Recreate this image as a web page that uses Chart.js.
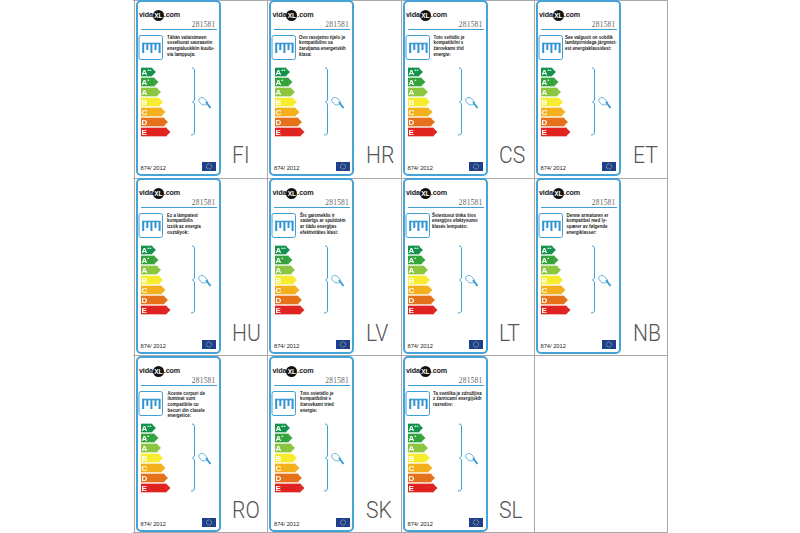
<!DOCTYPE html>
<html><head><meta charset="utf-8">
<script src="https://cdn.jsdelivr.net/npm/chart.js@4/dist/chart.umd.min.js"></script>
<style>
html,body{margin:0;padding:0;background:#fff;width:800px;height:533px;overflow:hidden}
body{position:relative;font-family:"Liberation Sans",Arial,sans-serif}
.vline{position:absolute;top:0;height:533px;width:1px;background:#a9a9a9}
.hline{position:absolute;left:133px;width:535px;height:1px;background:#a9a9a9}
.card{position:absolute;box-sizing:border-box;width:85px;height:176px;border:2px solid #46a3d8;border-radius:5px;background:#fff}
.logo{position:absolute;left:1.500px;top:7px;font:bold 7.200px "Liberation Sans";color:#222;white-space:nowrap;line-height:12px;letter-spacing:-.15px}
.logo b{display:inline-block;width:11px;height:11px;border-radius:50%;background:#111;color:#fff;font:bold 6.500px/11px "Liberation Sans";text-align:center;vertical-align:middle;letter-spacing:0}
.code{position:absolute;right:3px;top:18px;font:7.500px "Liberation Serif";color:#666;letter-spacing:.2px}
.rule{position:absolute;left:3px;right:2px;top:26.500px;height:1.400px;background:#3f9fd4}
.txt{position:absolute;top:32.500px;font:600 4.450px/5.700px "Liberation Sans";color:#222;white-space:nowrap}
.reg{position:absolute;left:3px;top:163px;font:5.700px "Liberation Sans";color:#222}
.eu{position:absolute;left:64.500px;top:159.500px;width:14px;height:9px;background:#1d3f8f}
.country{position:absolute;font:300 24px "Roboto";color:#555;line-height:24px;transform:scaleX(.88);transform-origin:left center}
canvas{position:absolute}
svg{position:absolute;left:0;top:0;overflow:visible}
</style></head><body>
<script>
const countries=["FI","HR","CS","ET","HU","LV","LT","NB","RO","SK","SL"];
const notes=[
["Tähän valaisimeen","soveltuvat seuraaviin","energialuokkiin kuulu-","via lamppuja:"],
["Ovo rasvjetno tijelo je","kompatibilno sa","žaruljama energetskih","klasa:"],
["Toto svítidlo je","kompatibilní s","žárovkami tříd","energie:"],
["See valgusti on sobilik","lambipirnidega järgmist-","est energiaklassidest:"],
["Ez a lámpatest","kompatibilis","izzók az energia","osztályok:"],
["Šis gaismeklis ir","saderīgs ar spuldzēm","ar šādu enerģijas","efektivitātes klasi:"],
["Šviestuvui tinka šios","energijos efektyvumo","klasės lemputės:"],
["Denne armaturen er","kompatibel med ly-","spærer av følgende","energiklasser:"],
["Aceste corpuri de","iluminat sunt","compatibile cu","becuri din clasele","energetice:"],
["Toto svietidlo je","kompatibilné s","žiarovkami tried","energie:"],
["Ta svetilka je združljiva","z žarnicami energijskih","razredov:"]
];
const noteLeft=[29.5,28,29,27.5,29.5,29,27.5,29,30,29,28.5];
const classLabels=["A++","A+","A","B","C","D","E"];
const classLengths=[11,13.5,16,18,20.5,23,25.5];
const classColors=["#12924a","#35a33c","#8cc540","#f7ec2e","#f3b01c","#e5711b","#df2320"];
const colX=[135.5,269,402.5,535.5];
const rowY=[0,178,356];
const gridX=[133.5,267,400.5,534,667];
const gridY=[0,177.5,355,532];
const blue="#3f9fd4";

gridX.forEach(x=>{const d=document.createElement('div');d.className='vline';d.style.left=x+'px';document.body.appendChild(d);});
gridY.forEach(y=>{const d=document.createElement('div');d.className='hline';d.style.top=y+'px';document.body.appendChild(d);});

const arrowHeads={id:'arrowHeads',afterDatasetsDraw(chart){
  const ctx=chart.ctx,meta=chart.getDatasetMeta(0);
  meta.data.forEach((el,i)=>{
    const h=el.height;
    ctx.fillStyle=classColors[i];
    ctx.beginPath();ctx.moveTo(el.x-.2,el.y-h/2);ctx.lineTo(el.x+4,el.y);ctx.lineTo(el.x-.2,el.y+h/2);ctx.closePath();ctx.fill();
    const lab=chart.data.labels[i];
    ctx.fillStyle='#fff';ctx.textBaseline='middle';ctx.textAlign='left';
    ctx.font='bold 8px "Liberation Sans"';
    ctx.fillText(lab[0],el.base+.5,el.y+.3);
    if(lab.length>1){ctx.font='bold 4px "Liberation Sans"';ctx.fillText(lab.slice(1),el.base+6,el.y-2);}
  });
}};

countries.forEach((code,i)=>{
  const cx=colX[i%4],cy=rowY[Math.floor(i/4)];
  const c=document.createElement('div');c.className='card';c.style.left=cx+'px';c.style.top=cy+'px';
  c.innerHTML=`<div class="logo">vida<b>XL</b>.com</div>
  <div class="code">281581</div><div class="rule"></div>
  <div class="txt" style="left:${noteLeft[i]}px">${notes[i].join('<br>')}</div>
  <div class="reg">874/ 2012</div>
  <div class="eu"><svg width="14" height="9" fill="none"><circle cx="7" cy="4.5" r="2.6" stroke="#d9cf6a" stroke-width=".8" stroke-dasharray="1 .6"/></svg></div>
  <svg width="81" height="172" fill="none" stroke="${blue}">
    <rect x="1" y="33.5" width="23.5" height="24" rx="2" stroke-width="1"/>
    <path d="M4 41.5H22.5" stroke-width="1.6"/>
    <path d="M5.2 41.5V51M9.3 41.5V48M13.4 41.5V51M17.5 41.5V48M21.6 41.5V51" stroke-width="2" stroke="#2f93cf"/>
    <path d="M54 66c2 0 2.5 1 2.5 3V97c0 1.5-.7 2.5-2 3c1.3.5 2 1.5 2 3V130c0 2-1 3-3.5 3" stroke-width="1"/>
    <path d="M60.5 98c1-3 4-3 6-1.5l3 3.5-1 2.5c-3 1-6 .5-8-4.5z" stroke-width=".8"/>
    <path d="M68 100l4.500 6" stroke-width="2"/>
  </svg>`;
  document.body.appendChild(c);
  const canvas=document.createElement('canvas');
  canvas.width=34;canvas.height=70;
  canvas.style.cssText=`left:${Math.round(cx+5.5)}px;top:${cy+67}px;width:34px;height:70px`;
  document.body.appendChild(canvas);
  new Chart(canvas,{type:'bar',data:{labels:classLabels,datasets:[{data:classLengths,backgroundColor:classColors,borderWidth:0,barThickness:8}]},
    options:{indexAxis:'y',animation:false,responsive:false,devicePixelRatio:1,layout:{padding:0},
      plugins:{legend:{display:false},tooltip:{enabled:false}},
      scales:{x:{display:false,min:0,max:34},y:{display:false}}},
    plugins:[arrowHeads]});
  const l=document.createElement('div');l.className='country';l.textContent=code;
  l.style.left=(gridX[i%4]+98.5)+'px';l.style.top=(gridY[Math.floor(i/4)]+143)+'px';
  document.body.appendChild(l);
});
</script>
</body></html>
